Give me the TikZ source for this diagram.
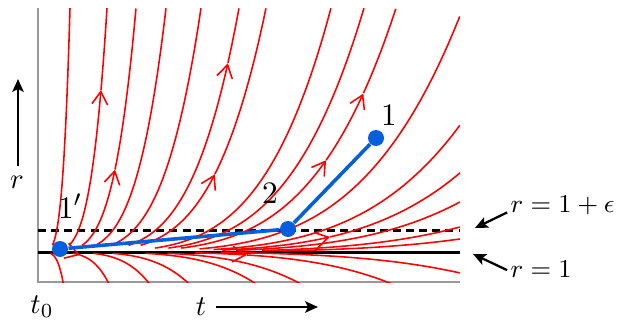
\documentclass[tikz,border=0pt]{standalone}
\usepackage{amssymb,amsmath}
\usetikzlibrary{arrows.meta}
\definecolor{flowred}{RGB}{255,0,0}
\definecolor{pathblue}{RGB}{5,95,220}

\newcommand{\upcurve}[4][]{\draw[flow,#1] plot[domain=#3:#4] ({38+#2*\x},{252-244*(\x)^4.5});}
\newcommand{\downcurve}[4][]{\draw[flow,#1] plot[domain=#3:#4] ({38+#2*\x},{252+30*(\x)^4.5});}

\begin{document}
\begin{tikzpicture}[x=0.35pt,y=-0.35pt]
\tikzstyle{flow}=[draw=flowred,line width=0.55pt,smooth,samples=40]
\tikzstyle{mid}=[-{Straight Barb[length=4.5pt,width=5.5pt]}]
\tikzstyle{vertex}=[circle,fill=pathblue,minimum size=5.6pt,inner sep=0pt]
\tikzstyle{walk}=[draw=pathblue,line width=1.25pt]
\tikzstyle{ptr}=[draw,line width=0.8pt,-{Stealth[length=4.5pt,width=4pt,inset=1pt]}]
\tikzstyle{axis}=[draw=black!40,line width=0.45pt]
\tikzstyle{level}=[draw,line width=1.05pt]

\useasboundingbox (0,0) rectangle (623,330);

\draw[axis] (38,8) -- (38,282) -- (460,282);
\draw[level] (38,252) -- (460,252);
\draw[level,dash pattern=on 2.8pt off 1.8pt] (38,230) -- (460,230);

\begin{scope}
\clip (38,8) rectangle (460,282);
% above r=1
\foreach \X/\a in {32/0.45,128/0.45,163/0.45,293/0.4,326/0.4,425/0.38,488/0.36,600/0.33,700/0.32,809/0.3}{
  \pgfmathsetmacro\b{min(1,422/\X)}
  \upcurve{\X}{\a}{\b}
}
\upcurve[mid]{69}{0.45}{0.913} \upcurve{69}{0.913}{1}
\upcurve[mid]{98}{0.45}{0.786} \upcurve{98}{0.786}{1}
\upcurve[mid]{201}{0.45}{0.945} \upcurve{201}{0.945}{1}
\upcurve[mid]{228}{0.45}{0.776} \upcurve{228}{0.776}{1}
\upcurve[mid]{358}{0.4}{0.805} \upcurve[mid]{358}{0.805}{0.909} \upcurve{358}{0.909}{1}
\upcurve[mid]{542}{0.34}{0.539} \upcurve{542}{0.539}{0.779}
% below r=1
\foreach \B/\a in {25/0.5,110/0.5,149/0.5,215/0.5,259/0.5,457/0.4}{
  \pgfmathsetmacro\b{min(1.1,422/\B)}
  \downcurve{\B}{\a}{\b}
}
\downcurve[mid]{70}{0.5}{0.6} \downcurve{70}{0.6}{1.1}
\downcurve[mid]{349}{0.45}{0.599} \downcurve{349}{0.599}{1.1}
\end{scope}

\node[vertex] (1p) at (60,249) {};
\node[vertex] (2) at (288,229) {};
\node[vertex] (1) at (376,138) {};
\path[walk] (1p) -- (2) -- (1);

\node[font=\fontsize{11}{13}\selectfont] (l1p) at (70,206) {$1'$};
\node[font=\fontsize{11}{13}\selectfont] (l2) at (270,193) {$2$};
\node[font=\fontsize{11}{13}\selectfont] (l1) at (389,115) {$1$};

\node (rl) at (17,182) {$r$};
\node (t0) at (42,307) {$t_0$};
\node (tl) at (201,307) {$t$};
\coordinate (rtop) at (18,79);
\coordinate (tend) at (318,307);
\draw[ptr] ([xshift=0.35pt]rl.north) -- (rtop);
\draw[ptr] (tl.east) -- (tend);

\node[anchor=west,inner sep=0pt,font=\fontsize{9.3}{11}\selectfont] (eps) at (510,205) {$r=1+\epsilon$};
\node[anchor=west,inner sep=0pt,font=\fontsize{9.3}{11}\selectfont] (one) at (510,269) {$r=1$};
\coordinate (epsend) at (475,228);
\coordinate (oneend) at (473,254);
\draw[ptr] ([xshift=-1pt,yshift=-2.6pt]eps.west) -- (epsend);
\draw[ptr] ([xshift=-1pt,yshift=-0.4pt]one.west) -- (oneend);
\end{tikzpicture}
\end{document}
